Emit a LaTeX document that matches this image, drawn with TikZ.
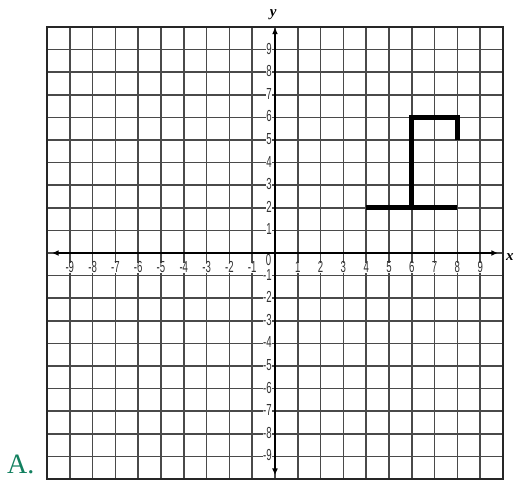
\documentclass[tikz,border=0pt]{standalone}
\usepackage{fontspec}
\usepackage{graphicx}
\setmainfont{Liberation Serif}
\newfontfamily\labfont{Liberation Sans}
\usetikzlibrary{arrows.meta}
\definecolor{gridgray}{HTML}{4A4A4A}
\definecolor{letgreen}{HTML}{12805F}
\tikzset{
  gridline/.style={draw=gridgray, line width=1.6pt},
  border/.style={draw=black!85, line width=2.2pt},
  axisline/.style={draw=black, line width=1.6pt, {Triangle[length=6pt,width=5pt]}-{Triangle[length=6pt,width=5pt]}},
  ticklab/.style={fill=white, inner sep=0.4pt, text height=9pt, text depth=0pt, text=black!80},
  axislab/.style={font=\fontsize{15}{15}\selectfont\bfseries\itshape, inner sep=0pt},
  shapeline/.style={draw=black, line width=5pt, line join=miter},
}
\newcommand{\cnd}[1]{\scalebox{0.6}[1]{\labfont\fontsize{16}{16}\selectfont #1}}
\begin{document}
\begin{tikzpicture}[x=22.8pt, y=22.6pt]
\useasboundingbox (-12.061,-10.044) rectangle (10.614,11.195);
% grid
\foreach \i in {-9,...,9} {
  \draw[gridline] (\i,-10) -- (\i,10);
  \draw[gridline] (-10,\i) -- (10,\i);
}
\draw[border] (-10,-10) rectangle (10,10);
% tick labels
\foreach \i in {-9,...,-1,1,2,...,9} {
  \node[ticklab] (xl\i) at (\i,-0.68) {\cnd{\i}};
  \node[ticklab, anchor=east] (yl\i) at (-0.12,\i) {\cnd{\i}};
}
\node[ticklab] (zero) at (-0.28,-0.36) {\cnd{0}};
% axes
\coordinate (xa) at (-9.75,0);
\coordinate (xb) at (9.75,0);
\coordinate (ya) at (0,-9.8);
\coordinate (yb) at (0,9.95);
\draw[axisline] (xa) -- (xb);
\draw[axisline] (ya) -- (yb);
\node[axislab] (xlab) at (10.3,-0.2) {x};
\node[axislab] (ylab) at (-0.08,10.55) {y};
% figure
\coordinate (p1) at (4,2);
\coordinate (p2) at (8,2);
\coordinate (p3) at (6,2);
\coordinate (p4) at (6,6);
\coordinate (p5) at (8,6);
\coordinate (p6) at (8,5);
\draw[shapeline] (p1) -- (p2);
\draw[shapeline] (p3) -- (p4) -- (p5) -- (p6);
% option letter
\node[anchor=base west, inner sep=0pt, text=letgreen, font=\fontsize{28}{28}\selectfont] (opt) at (-11.76,-9.75) {A.};
\end{tikzpicture}
\end{document}
